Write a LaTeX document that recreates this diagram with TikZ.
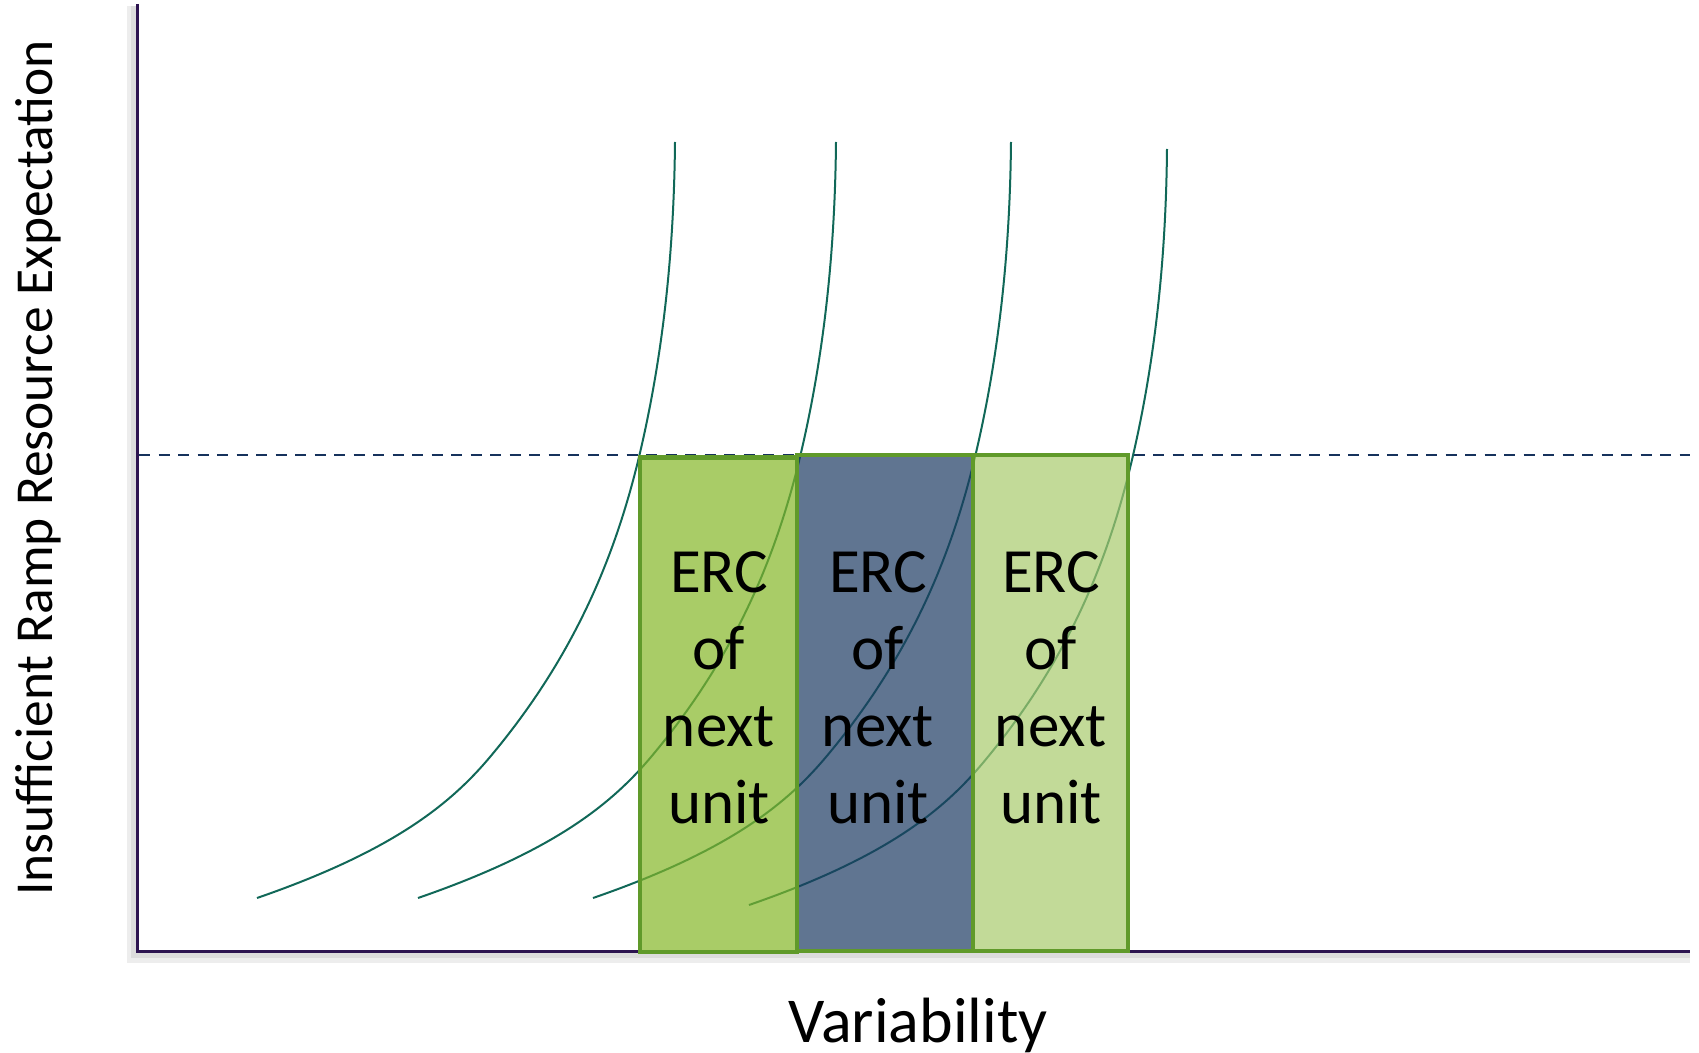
\documentclass[tikz,border=0pt]{standalone}
\usepackage{fontspec}
\setmainfont{Carlito}
\definecolor{axiscol}{RGB}{45,20,80}
\definecolor{curvecol}{RGB}{17,104,88}
\definecolor{dashcol}{RGB}{22,50,92}
\definecolor{boxedge}{RGB}{96,154,42}
\definecolor{fillA}{RGB}{132,182,39}
\definecolor{fillB}{RGB}{28,58,98}
\definecolor{fillC}{RGB}{168,202,108}
\begin{document}
\begin{tikzpicture}[x=0.5pt,y=-0.5pt,
  axisline/.style={draw=axiscol, line width=1.5pt},
  shadowline/.style={draw=black, opacity=0.07},
  thresh/.style={draw=dashcol, line width=0.9pt, dash pattern=on 5.5pt off 4.25pt},
  curveline/.style={draw=curvecol, line width=1pt},
  ercbox/.style={draw=boxedge, line width=2.2pt, fill opacity=0.7},
  erctext/.style={font=\fontsize{31.5pt}{37pt}\selectfont, anchor=base, inner sep=0pt},
  labtext/.style={font=\fontsize{26.7pt}{32pt}\selectfont, anchor=base, inner sep=0pt},
  xlabtext/.style={font=\fontsize{32pt}{38pt}\selectfont, anchor=base, inner sep=0pt}]
\useasboundingbox (0,0) rectangle (1699,1053);
% axis shadow
\draw[shadowline, line width=6pt] (133,6) -- (133,957) -- (1690,957);
\draw[shadowline, line width=3pt] (134,6) -- (134,955) -- (1690,955);
% axes
\coordinate (ytop) at (137,4);
\coordinate (origin) at (137,951);
\coordinate (xend) at (1690,951);
\draw[axisline] (ytop) -- (origin) -- (xend);
% threshold
\coordinate (dl) at (139,455);
\coordinate (dr) at (1690,455);
\draw[thresh] (dl) -- (dr);
% curves
\foreach \dx/\dy in {0/0,161/0,336/0,492/7}{
  \draw[curveline, shift={(\dx,\dy)}]
    (257,898) .. controls (393,851) and (450.5,804) .. (490,757)
              .. controls (574,657) and (615,557) .. (639,457)
              .. controls (664,352) and (674,247) .. (675,142);
}
% boxes
\draw[ercbox, fill=fillC] (973,455) rectangle (1128,951);
\draw[ercbox, fill=fillB] (797,455) rectangle (973,951);
\draw[ercbox, fill=fillA] (640,457.5) rectangle (797,952);
% texts
\foreach \n/\x in {1/719,2/878,3/1051}{
  \node[erctext] (erc\n-1) at (\x,593) {ERC};
  \node[erctext] (erc\n-2) at (\x,669.7) {of};
  \node[erctext] (erc\n-3) at (\x,746.4) {next};
  \node[erctext] (erc\n-4) at (\x,823) {unit};
}
\node[labtext, rotate=90] (ylabel) at (52,468) {Insufficient Ramp Resource Expectation};
\node[xlabtext] (xlabel) at (918,1042) {Variability};
\end{tikzpicture}
\end{document}
